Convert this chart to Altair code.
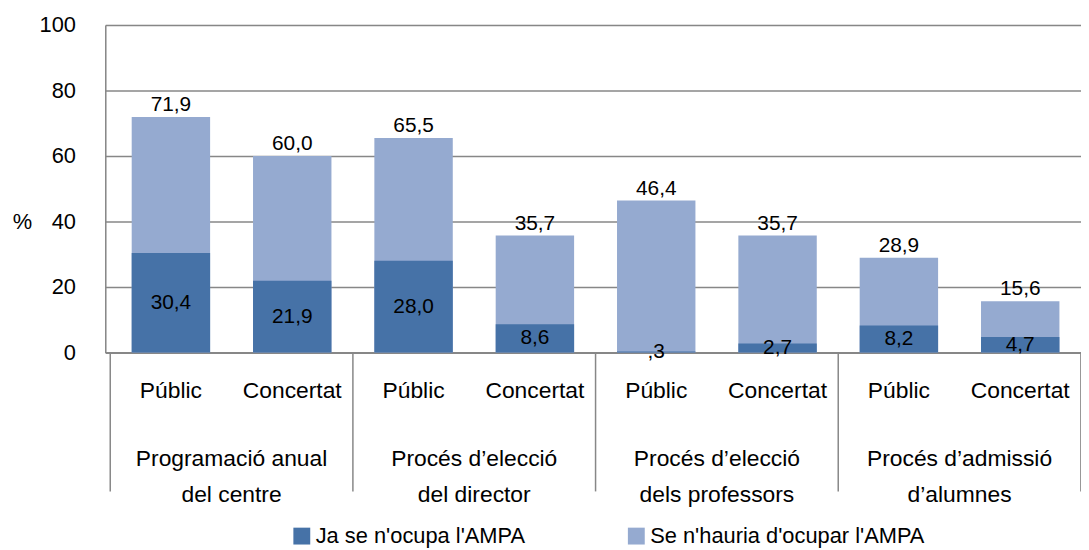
import altair as alt
import pandas as pd

# ---- data ----
groups = ["Programació anual\ndel centre", "Procés d’elecció\ndel director",
          "Procés d’elecció\ndels professors", "Procés d’admissió\nd’alumnes"]
schools = ["Públic", "Concertat"]
ja_vals = [30.4, 21.9, 28.0, 8.6, 0.3, 2.7, 8.2, 4.7]          # Ja se n'ocupa l'AMPA
hauria_vals = [71.9, 60.0, 65.5, 35.7, 46.4, 35.7, 28.9, 15.6]  # Se n'hauria d'ocupar l'AMPA
y_ticks = [0, 20, 40, 60, 80, 100]

S_JA = "Ja se n'ocupa l'AMPA"
S_HA = "Se n'hauria d'ocupar l'AMPA"
DARK = "#4672A7"
LIGHT = "#95AAD0"
GRID = "#878787"
FONT = "Liberation Sans"


def fmt(v):
    s = f"{v:.1f}".replace(".", ",")
    return s[1:] if s.startswith("0,") else s


rows = []
bar_info = []
for i in range(len(ja_vals)):
    g = i // 2
    bar_info.append({"pos": i + 0.5, "school": schools[i % 2], "group": groups[g],
                     "ja": ja_vals[i], "hauria": hauria_vals[i],
                     "ja_lab": fmt(ja_vals[i]), "ha_lab": fmt(hauria_vals[i])})
for b in bar_info:
    rows.append({"pos": b["pos"], "series": S_HA, "value": b["hauria"]})
for b in bar_info:
    rows.append({"pos": b["pos"], "series": S_JA, "value": b["ja"]})
bars_df = pd.DataFrame(rows)
info_df = pd.DataFrame(bar_info)
group_df = pd.DataFrame({"pos": [2 * g + 1 for g in range(len(groups))], "group": groups})
div_df = pd.DataFrame({"pos": [2 * g for g in range(len(groups) + 1)]})

xscale = alt.Scale(domain=[0, 7.96], nice=False, zero=False)
yscale = alt.Scale(domain=[0, 100], nice=False)

xaxis = alt.Axis(labels=False, ticks=False, grid=False, domain=True,
                 domainColor=GRID, domainWidth=2, title=None)
yaxis = alt.Axis(values=y_ticks, grid=True, gridColor=GRID, gridWidth=1.5,
                 domain=True, domainColor=GRID, domainWidth=1.5,
                 ticks=False, tickSize=0, labelPadding=30,
                 labelFontSize=22, labelColor="#000000", labelFont=FONT,
                 title="%", titleAngle=0, titleX=-84, titleY=198,
                 titleAlign="center", titleBaseline="middle",
                 titleFontSize=22, titleFontWeight="normal",
                 titleColor="#000000", titleFont=FONT)


def X():
    return alt.X("pos:Q", scale=xscale, axis=xaxis)


bars = alt.Chart(bars_df).mark_bar(width=79).encode(
    x=X(),
    y=alt.Y("value:Q", scale=yscale, stack=None, axis=yaxis),
    color=alt.Color("series:N",
                    scale=alt.Scale(domain=[S_JA, S_HA], range=[DARK, LIGHT]),
                    legend=alt.Legend(orient="none", legendX=187, legendY=504,
                                      direction="horizontal", title=None,
                                      symbolType="square", symbolSize=289,
                                      symbolStrokeWidth=0, labelFontSize=22,
                                      labelFont=FONT, labelColor="#000000",
                                      labelLimit=0, labelOffset=3,
                                      columnPadding=101)),
)

ja_text = alt.Chart(info_df).transform_calculate(value="datum.ja / 2").mark_text(
    fontSize=21, font=FONT, color="#000000", baseline="middle"
).encode(
    x=X(),
    y=alt.Y("value:Q", scale=yscale, axis=yaxis),
    text="ja_lab:N",
)

ha_text = alt.Chart(info_df).transform_calculate(value="datum.hauria").mark_text(
    fontSize=21, font=FONT, color="#000000", baseline="bottom", dy=-2
).encode(
    x=X(),
    y=alt.Y("value:Q", scale=yscale, axis=yaxis),
    text="ha_lab:N",
)

school_text = alt.Chart(info_df).mark_text(
    fontSize=23, font=FONT, color="#000000", baseline="middle"
).encode(
    x=X(),
    y=alt.value(369),
    text="school:N",
)

group_text = alt.Chart(group_df).mark_text(
    fontSize=23, font=FONT, color="#000000", baseline="middle",
    lineBreak="\n", lineHeight=37
).encode(
    x=X(),
    y=alt.value(437),
    text="group:N",
)

dividers = alt.Chart(div_df).mark_rule(color=GRID, strokeWidth=1.5).encode(
    x=X(),
    y=alt.value(330),
    y2=alt.value(470),
)

chart = alt.layer(bars, dividers, ja_text, ha_text, school_text, group_text).properties(
    width=983,
    height=330,
    autosize=alt.AutoSizeParams(type="none"),
    padding={"left": 98, "top": 15, "right": 0, "bottom": 200},
).configure_view(stroke=None).configure(font=FONT)

chart.save("out.html", embed_options={"renderer": "svg", "actions": False})
